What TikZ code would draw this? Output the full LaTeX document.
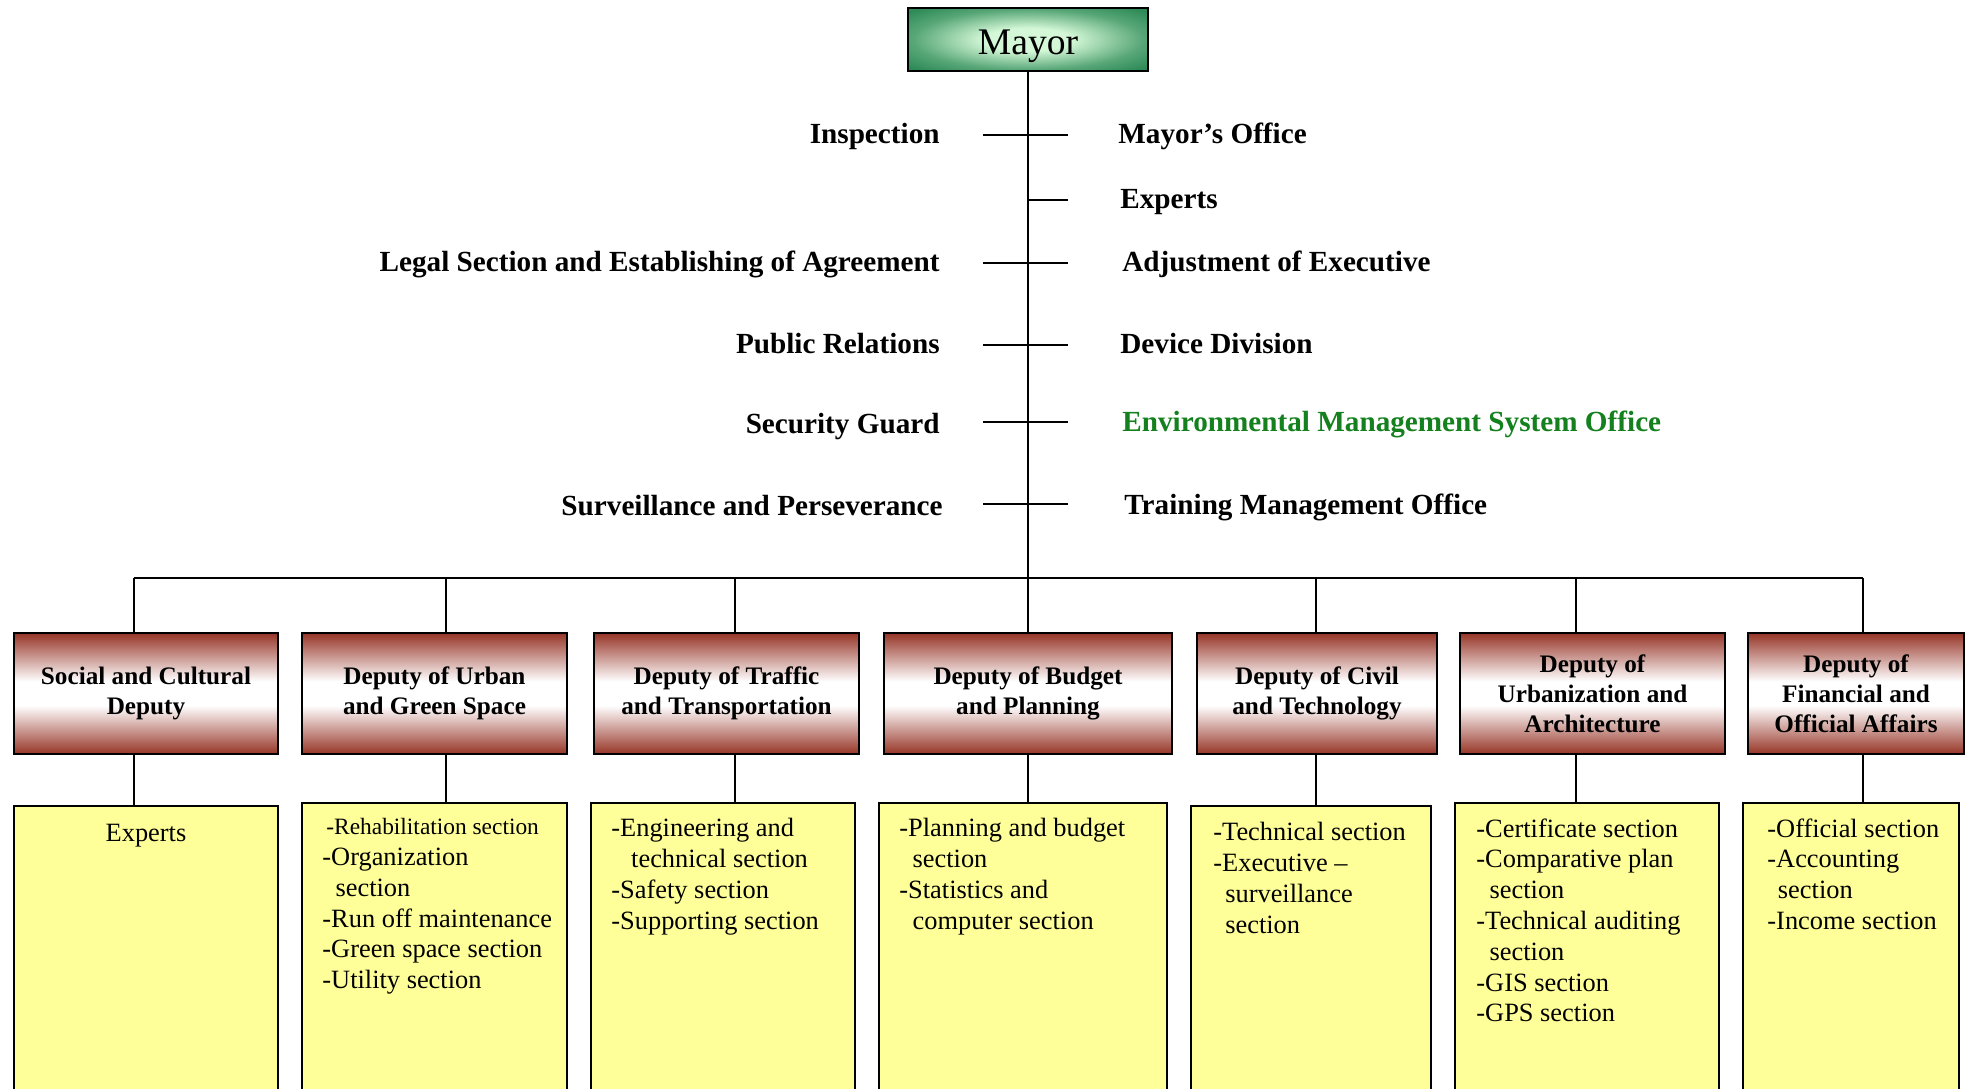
\documentclass[tikz,border=0pt]{standalone}
\usepackage{fontspec}
\setmainfont{Liberation Serif}
\usetikzlibrary{positioning}

\definecolor{mayorgreen}{RGB}{46,139,87}
\definecolor{mayorlight}{RGB}{212,248,215}
\definecolor{deputyred}{RGB}{150,52,38}
\definecolor{secyellow}{RGB}{255,255,153}
\definecolor{emsgreen}{RGB}{20,128,30}

\pgfdeclareradialshading{mayorshade}{\pgfpoint{0bp}{0bp}}{color(0bp)=(mayorlight); color(9bp)=(mayorlight); color(24bp)=(mayorgreen!75!mayorlight); color(33bp)=(mayorgreen); color(50bp)=(mayorgreen)}
\pgfdeclareverticalshading{deputyshade}{100bp}{color(0bp)=(deputyred); color(25bp)=(deputyred); color(31bp)=(deputyred!70!white); color(45bp)=(white); color(55bp)=(white); color(69bp)=(deputyred!70!white); color(75bp)=(deputyred); color(100bp)=(deputyred)}

\begin{document}
\begin{tikzpicture}[
    x=0.5pt, y=-0.5pt,
    mayorbox/.style={draw, line width=1.2pt, minimum width=120pt, minimum height=31.5pt, shade, shading=mayorshade, text height=15.4pt, text depth=0pt, font=\fontsize{18.8pt}{22pt}\selectfont},
    deputy/.style={draw, line width=1.1pt, shade, shading=deputyshade, minimum height=60.5pt, align=center, inner sep=0pt, font=\bfseries\fontsize{12.6pt}{14.9pt}\selectfont},
    secbox/.style={draw, line width=0.9pt, fill=secyellow, minimum height=200pt, anchor=north},
    sectext/.style={anchor=north west, align=left, inner sep=0pt, font=\fontsize{13.2pt}{15.4pt}\selectfont},
    leftlabel/.style={anchor=base east, inner sep=0pt, font=\bfseries\fontsize{14.6pt}{17pt}\selectfont},
    rightlabel/.style={anchor=base west, inner sep=0pt, font=\bfseries\fontsize{14.6pt}{17pt}\selectfont},
    link/.style={line width=1pt}
]
    \useasboundingbox (0,0) rectangle (1966,1088);
    \clip (0,0) rectangle (1966,1088);

    % Mayor at the top
    \node[mayorbox] (mayor) at (1028,39.5) {Mayor};

    % Spine and tick points
    \coordinate (bus) at (1028,578);
    \coordinate (t1) at (1028,135);
    \coordinate (t2) at (1028,200);
    \coordinate (t3) at (1028,263);
    \coordinate (t4) at (1028,345);
    \coordinate (t5) at (1028,422);
    \coordinate (t6) at (1028,504);

    % Staff units - left side
    \node[leftlabel] (insp) at (940,143) {Inspection};
    \node[leftlabel] (legal) at (940,271) {Legal Section and Establishing of Agreement};
    \node[leftlabel] (pubrel) at (940,353) {Public Relations};
    \node[leftlabel] (guard) at (940,433) {Security Guard};
    \node[leftlabel] (surv) at (943,515) {Surveillance and Perseverance};

    % Staff units - right side
    \node[rightlabel] (moffice) at (1118,143) {Mayor's Office};
    \node[rightlabel] (experts) at (1120,208) {Experts};
    \node[rightlabel] (adjust) at (1122,271) {Adjustment of Executive};
    \node[rightlabel] (device) at (1120,353) {Device Division};
    \node[rightlabel, text=emsgreen] (ems) at (1122,431) {Environmental Management System Office};
    \node[rightlabel] (training) at (1124,514) {Training Management Office};

    % Deputies
    \node[deputy, minimum width=132pt] (dep1) at (146,693.5) {Social and Cultural\\Deputy};
    \node[deputy, minimum width=132.5pt] (dep2) at (434.5,693.5) {Deputy of Urban\\and Green Space};
    \node[deputy, minimum width=132.5pt] (dep3) at (726.5,693.5) {Deputy of Traffic\\and Transportation};
    \node[deputy, minimum width=144pt] (dep4) at (1028,693.5) {Deputy of Budget\\and Planning};
    \node[deputy, minimum width=120pt] (dep5) at (1317,693.5) {Deputy of Civil\\and Technology};
    \node[deputy, minimum width=132.5pt] (dep6) at (1592.5,693.5) {Deputy of\\Urbanization and\\Architecture};
    \node[deputy, minimum width=108pt] (dep7) at (1856,693.5) {Deputy of\\Financial and\\Official Affairs};

    % Sections under each deputy
    \node[secbox, minimum width=132pt] (sec1) at (146,805) {};
    \node[secbox, minimum width=132.5pt] (sec2) at (434.5,802) {};
    \node[secbox, minimum width=132pt] (sec3) at (723,802) {};
    \node[secbox, minimum width=144pt] (sec4) at (1023,802) {};
    \node[secbox, minimum width=120pt] (sec5) at (1311,805) {};
    \node[secbox, minimum width=132pt] (sec6) at (1587,802) {};
    \node[secbox, minimum width=108pt] (sec7) at (1851,802) {};

    \node[sectext, anchor=north] (list1) at (146,824) {Experts};
    \node[sectext] (list2) at (322,818) {{\fontsize{11.7pt}{15.4pt}\selectfont\hspace*{2pt}-Rehabilitation section}\\-Organization\\\hspace*{0.5em}section\\-Run off maintenance\\-Green space section\\-Utility section};
    \node[sectext] (list3) at (611,818) {-Engineering and\\\hspace*{0.75em}technical section\\-Safety section\\-Supporting section};
    \node[sectext] (list4) at (899,818) {-Planning and budget\\\hspace*{0.5em}section\\-Statistics and\\\hspace*{0.5em}computer section};
    \node[sectext] (list5) at (1213,822) {-Technical section\\-Executive --\\\hspace*{0.45em}surveillance\\\hspace*{0.45em}section};
    \node[sectext] (list6) at (1476,818) {-Certificate section\\-Comparative plan\\\hspace*{0.5em}section\\-Technical auditing\\\hspace*{0.5em}section\\-GIS section\\-GPS section};
    \node[sectext] (list7) at (1767,818) {-Official section\\-Accounting\\\hspace*{0.4em}section\\-Income section};

    % Bus points above the deputies
    \coordinate (b1) at (134,578);
    \coordinate (b2) at (446,578);
    \coordinate (b3) at (735,578);
    \coordinate (b4) at (1028,578);
    \coordinate (b5) at (1316,578);
    \coordinate (b6) at (1576,578);
    \coordinate (b7) at (1863,578);

    % Spine, ticks and bus
    \draw[link] (mayor) -- (bus);
    \draw[link] ([xshift=-22.5pt]t1) -- ([xshift=20pt]t1);
    \draw[link] (t2) -- ([xshift=20pt]t2);
    \draw[link] ([xshift=-22.5pt]t3) -- ([xshift=20pt]t3);
    \draw[link] ([xshift=-22.5pt]t4) -- ([xshift=20pt]t4);
    \draw[link] ([xshift=-22.5pt]t5) -- ([xshift=20pt]t5);
    \draw[link] ([xshift=-22.5pt]t6) -- ([xshift=20pt]t6);
    \draw[link] (b1) -- (b7);

    % Bus down to deputies
    \draw[link] (b1) -- (b1 |- dep1.north);
    \draw[link] (b2) -- (b2 |- dep2.north);
    \draw[link] (b3) -- (b3 |- dep3.north);
    \draw[link] (b4) -- (b4 |- dep4.north);
    \draw[link] (b5) -- (b5 |- dep5.north);
    \draw[link] (b6) -- (b6 |- dep6.north);
    \draw[link] (b7) -- (b7 |- dep7.north);

    % Deputies down to sections
    \draw[link] (b1 |- dep1.south) -- (b1 |- sec1.north);
    \draw[link] (b2 |- dep2.south) -- (b2 |- sec2.north);
    \draw[link] (b3 |- dep3.south) -- (b3 |- sec3.north);
    \draw[link] (b4 |- dep4.south) -- (b4 |- sec4.north);
    \draw[link] (b5 |- dep5.south) -- (b5 |- sec5.north);
    \draw[link] (b6 |- dep6.south) -- (b6 |- sec6.north);
    \draw[link] (b7 |- dep7.south) -- (b7 |- sec7.north);
\end{tikzpicture}
\end{document}
